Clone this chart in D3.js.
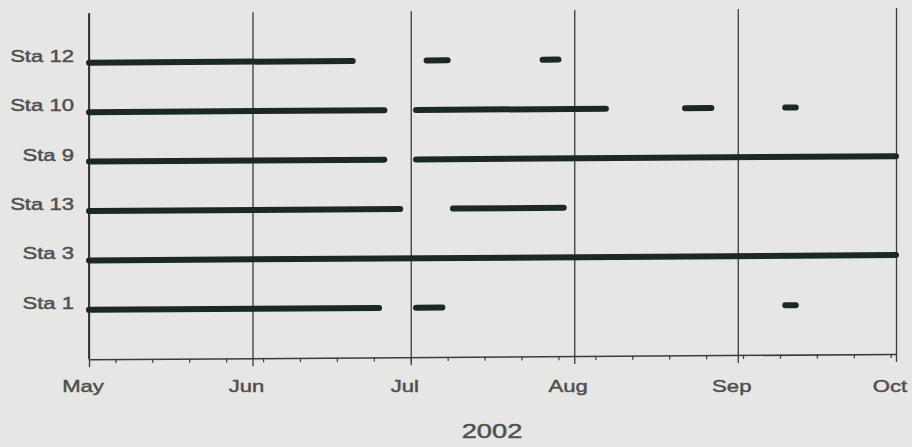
<!DOCTYPE html>
<html><head><meta charset="utf-8">
<script src="https://cdn.jsdelivr.net/npm/d3@7"></script>
<style>
html,body{margin:0;padding:0;background:#e6e7e5;}
svg{display:block;}
text{font-family:"Liberation Sans",Arial,sans-serif;fill:#4e504f;stroke:#4e504f;stroke-width:0.45px;}
</style></head>
<body>
<svg id="chart" width="912" height="447"></svg>
<script>
// ---- data ----
const stations = ["Sta 12", "Sta 10", "Sta 9", "Sta 13", "Sta 3", "Sta 1"];
const sta12 = [["2002-05-01","2002-06-20"],["2002-07-04","2002-07-08"],["2002-07-26","2002-07-29"]];
const sta10 = [["2002-05-01","2002-06-26"],["2002-07-02","2002-08-07"],["2002-08-22","2002-08-27"],["2002-09-10","2002-09-12"]];
const sta9  = [["2002-05-01","2002-06-26"],["2002-07-02","2002-10-01"]];
const sta13 = [["2002-05-01","2002-06-29"],["2002-07-09","2002-07-30"]];
const sta3  = [["2002-05-01","2002-10-01"]];
const sta1  = [["2002-05-01","2002-06-25"],["2002-07-02","2002-07-07"],["2002-09-10","2002-09-12"]];
const monthTicks = ["2002-05-01","2002-06-01","2002-07-01","2002-08-01","2002-09-01","2002-10-01"];
const monthLabels = ["May","Jun","Jul","Aug","Sep","Oct"];
const yearLabel = "2002";
const segmentsByStation = [sta12, sta10, sta9, sta13, sta3, sta1];

const parse = d3.utcParse("%Y-%m-%d");
const svg = d3.select("#chart");
const W = 912, H = 447;
const x0 = 89, x1 = 896, yTop = 13.3, yBot = 359.3;

const x = d3.scaleUtc().domain([parse(monthTicks[0]), parse(monthTicks[monthTicks.length-1])]).range([0, x1 - x0]);
const y = d3.scaleLinear().domain([0, stations.length + 1]).range([yTop, yBot]);

svg.append("rect").attr("width", W).attr("height", H).attr("fill", "#e6e7e5");

// plot group, slightly sheared like the photographed original
const g = svg.append("g").attr("transform", `translate(${x0},0) skewY(-0.38)`);

// vertical month gridlines
const grid = d3.axisBottom(x).tickValues(monthTicks.map(parse)).tickSize(-(yBot - yTop)).tickFormat("");
g.append("g").attr("transform", `translate(0,${yBot})`).call(grid)
  .call(s => s.select(".domain").remove())
  .call(s => s.selectAll("line").attr("stroke", "#3a3b3b").attr("stroke-width", 1.3));

// minor weekly ticks
const minor = d3.axisBottom(x).ticks(d3.utcMonday).tickSize(4).tickFormat("");
g.append("g").attr("transform", `translate(0,${yBot})`).call(minor)
  .call(s => s.select(".domain").remove())
  .call(s => s.selectAll("line").attr("stroke", "#3a3b3b").attr("stroke-width", 1.2));

// month ticks + axis line
const major = d3.axisBottom(x).tickValues(monthTicks.map(parse)).tickSize(8).tickSizeOuter(0).tickFormat("");
g.append("g").attr("transform", `translate(0,${yBot})`).call(major)
  .call(s => s.select(".domain").attr("stroke", "#3a3b3b").attr("stroke-width", 1.6))
  .call(s => s.selectAll("line").attr("stroke", "#3a3b3b").attr("stroke-width", 1.3));

// y axis line (May) a bit heavier
g.append("line").attr("x1", x(parse(monthTicks[0]))).attr("x2", x(parse(monthTicks[0])))
  .attr("y1", yTop).attr("y2", yBot).attr("stroke", "#2f3030").attr("stroke-width", 1.8);

// segments
segmentsByStation.forEach((segs, i) => {
  g.selectAll(null).data(segs).enter().append("line")
    .attr("x1", d => x(parse(d[0]))).attr("x2", d => x(parse(d[1])))
    .attr("y1", y(i + 1)).attr("y2", y(i + 1))
    .attr("stroke", "#1a2924").attr("stroke-width", 6).attr("stroke-linecap", "round");
});

// station labels
stations.forEach((s, i) => {
  svg.append("g").attr("transform", `translate(74,${y(i + 1) - 1}) scale(1.3,1)`)
    .append("text").attr("text-anchor", "end").attr("font-size", 17).text(s);
});

// month labels
monthTicks.forEach((m, i) => {
  svg.append("g").attr("transform", `translate(${x0 + x(parse(m)) - 6},392) scale(1.3,1)`)
    .append("text").attr("text-anchor", "middle").attr("font-size", 17).text(monthLabels[i]);
});

// year label
svg.append("g").attr("transform", `translate(492,438) scale(1.3,1)`)
  .append("text").attr("text-anchor", "middle").attr("font-size", 21).text(yearLabel);
</script>
</body></html>
